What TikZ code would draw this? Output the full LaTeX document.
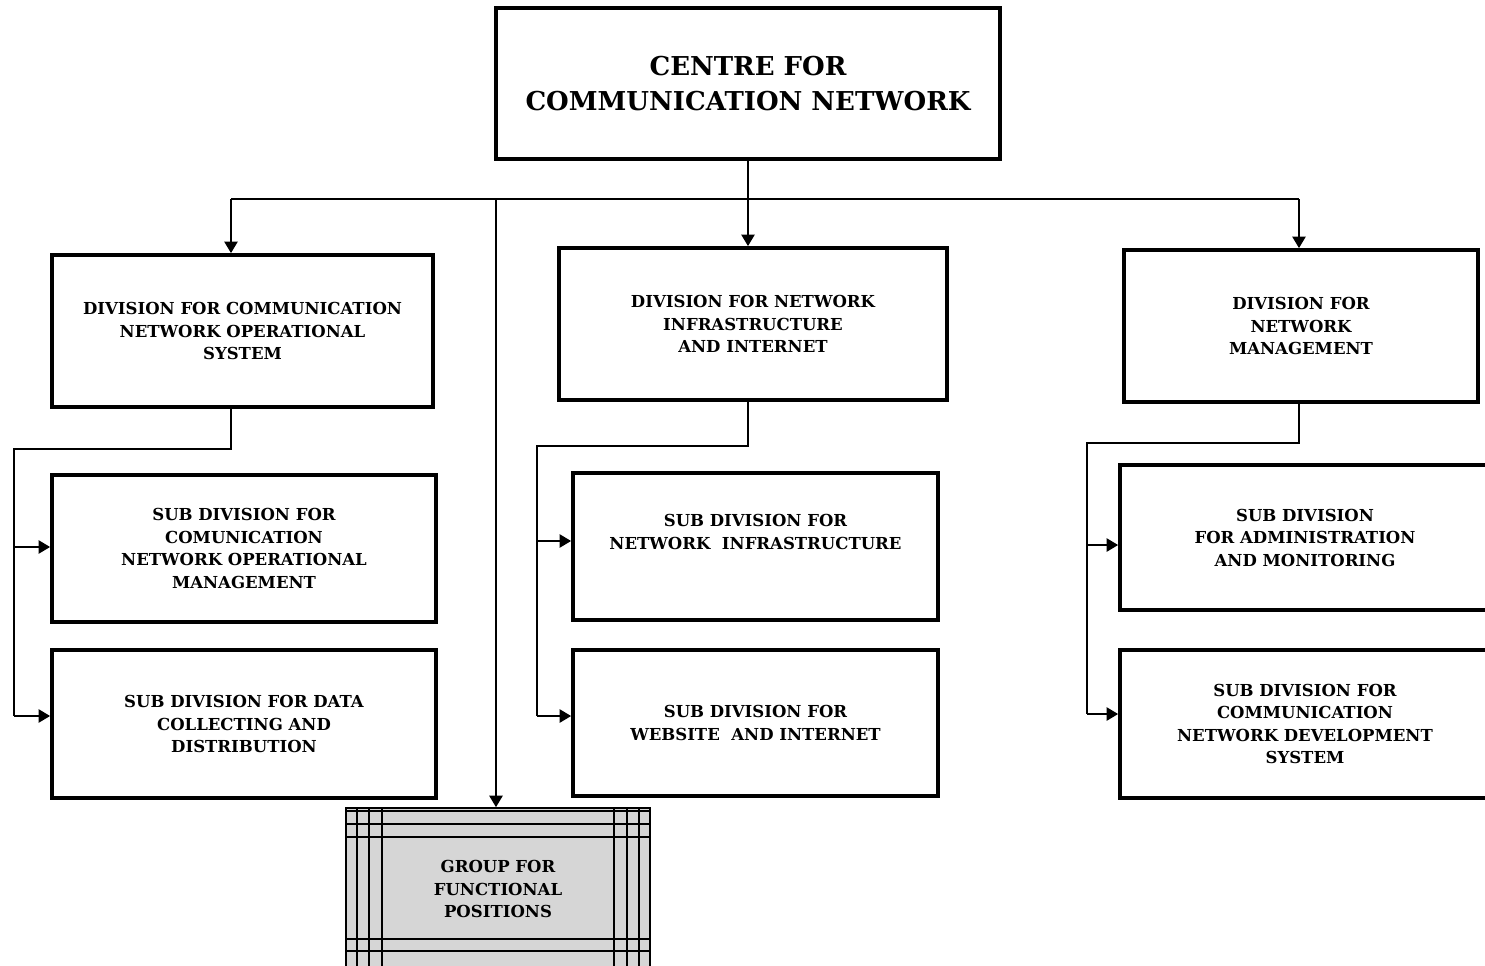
\documentclass[tikz,border=0pt]{standalone}
\usepackage{fontspec}
\setmainfont{DejaVu Serif}
\usetikzlibrary{arrows.meta,positioning,calc}
\definecolor{groupgray}{RGB}{214,214,214}

\begin{document}
\begin{tikzpicture}[
    x=0.02cm,y=-0.02cm,
    every node/.style={draw,line width=2.2pt,align=center,font=\fontsize{9.4}{12.8}\selectfont\bfseries},
    arr/.style={line width=1pt,-{Triangle[length=6.5pt,width=7.5pt]}},
    conn/.style={line width=1pt}
]
\useasboundingbox (0,0) rectangle (1485,965);

% Title
\node[minimum width=10.08cm,minimum height=3.02cm,font=\fontsize{14.8}{20}\selectfont\bfseries] (centre) at (748,83.5) {CENTRE FOR\\COMMUNICATION NETWORK};

% Divisions
\node[minimum width=7.62cm,minimum height=3.04cm] (divl) at (242.5,331) {DIVISION FOR COMMUNICATION\\NETWORK OPERATIONAL\\SYSTEM};
\node[minimum width=7.76cm,minimum height=3.04cm] (divm) at (753,324) {DIVISION FOR NETWORK\\INFRASTRUCTURE\\AND INTERNET};
\node[minimum width=7.08cm,minimum height=3.04cm] (divr) at (1301,326) {DIVISION FOR\\NETWORK\\MANAGEMENT};

% Sub divisions (left)
\node[minimum width=7.68cm,minimum height=2.94cm] (subl1) at (244,548.5) {SUB DIVISION FOR\\COMUNICATION\\NETWORK OPERATIONAL\\MANAGEMENT};
\node[minimum width=7.68cm,minimum height=2.96cm] (subl2) at (244,724) {SUB DIVISION FOR DATA\\COLLECTING AND\\DISTRIBUTION};

% Sub divisions (middle)
\node[minimum width=7.3cm,minimum height=2.94cm] (subm1) at (755.5,546.5) {};
\node[draw=none] (subm1text) at (755.5,532) {SUB DIVISION FOR\\NETWORK\ \ INFRASTRUCTURE};
\node[minimum width=7.3cm,minimum height=2.92cm] (subm2) at (755.5,723) {SUB DIVISION FOR\\WEBSITE\ \ AND INTERNET};

% Sub divisions (right)
\node[minimum width=7.4cm,minimum height=2.9cm] (subr1) at (1305,537.5) {SUB DIVISION\\FOR ADMINISTRATION\\AND MONITORING};
\node[minimum width=7.4cm,minimum height=2.96cm] (subr2) at (1305,724) {SUB DIVISION FOR\\COMMUNICATION\\NETWORK DEVELOPMENT\\SYSTEM};

% Functional group
\node[fill=groupgray,line width=1pt,minimum width=6.08cm,minimum height=3.24cm] (grp) at (498,889) {GROUP FOR\\FUNCTIONAL\\POSITIONS};
\foreach \dx in {12,24,37} {
    \draw[line width=1pt] ($(grp.north west)+(\dx,0)$) -- ($(grp.south west)+(\dx,0)$);
    \draw[line width=1pt] ($(grp.north east)-(\dx,0)$) -- ($(grp.south east)-(\dx,0)$);
}
\foreach \dy in {4,17,30,132,144}
    \draw[line width=1pt] ($(grp.north west)+(0,\dy)$) -- ($(grp.north east)+(0,\dy)$);

% Main bus
\coordinate (busl) at (231,199);
\coordinate (busr) at (1299,199);
\coordinate (busg) at (496,199);
\draw[conn] (busl) -- (busr);
\draw[conn] (centre.south) -- (centre.south |- busl);
\draw[arr] (busl) -- (busl |- divl.north);
\draw[arr] (busr) -- (busr |- divr.north);
\draw[arr] (centre.south |- busl) -- (centre.south |- divm.north);
\draw[arr] (busg) -- (busg |- grp.north);

% Left branch
\coordinate (spinel) at (14,449);
\coordinate (midl) at (14,547);
\coordinate (lowl) at (14,716);
\draw[conn] (busl |- divl.south) |- (spinel) -- (lowl);
\draw[arr] (midl) -- (midl -| subl1.west);
\draw[arr] (lowl) -- (lowl -| subl2.west);

% Middle branch
\coordinate (spinem) at (537,446);
\coordinate (midm) at (537,541);
\coordinate (lowm) at (537,716);
\draw[conn] (centre.south |- divm.south) |- (spinem) -- (lowm);
\draw[arr] (midm) -- (midm -| subm1.west);
\draw[arr] (lowm) -- (lowm -| subm2.west);

% Right branch
\coordinate (spiner) at (1087,443);
\coordinate (midr) at (1087,545);
\coordinate (lowr) at (1087,714);
\draw[conn] (busr |- divr.south) |- (spiner) -- (lowr);
\draw[arr] (midr) -- (midr -| subr1.west);
\draw[arr] (lowr) -- (lowr -| subr2.west);

\end{tikzpicture}
\end{document}
